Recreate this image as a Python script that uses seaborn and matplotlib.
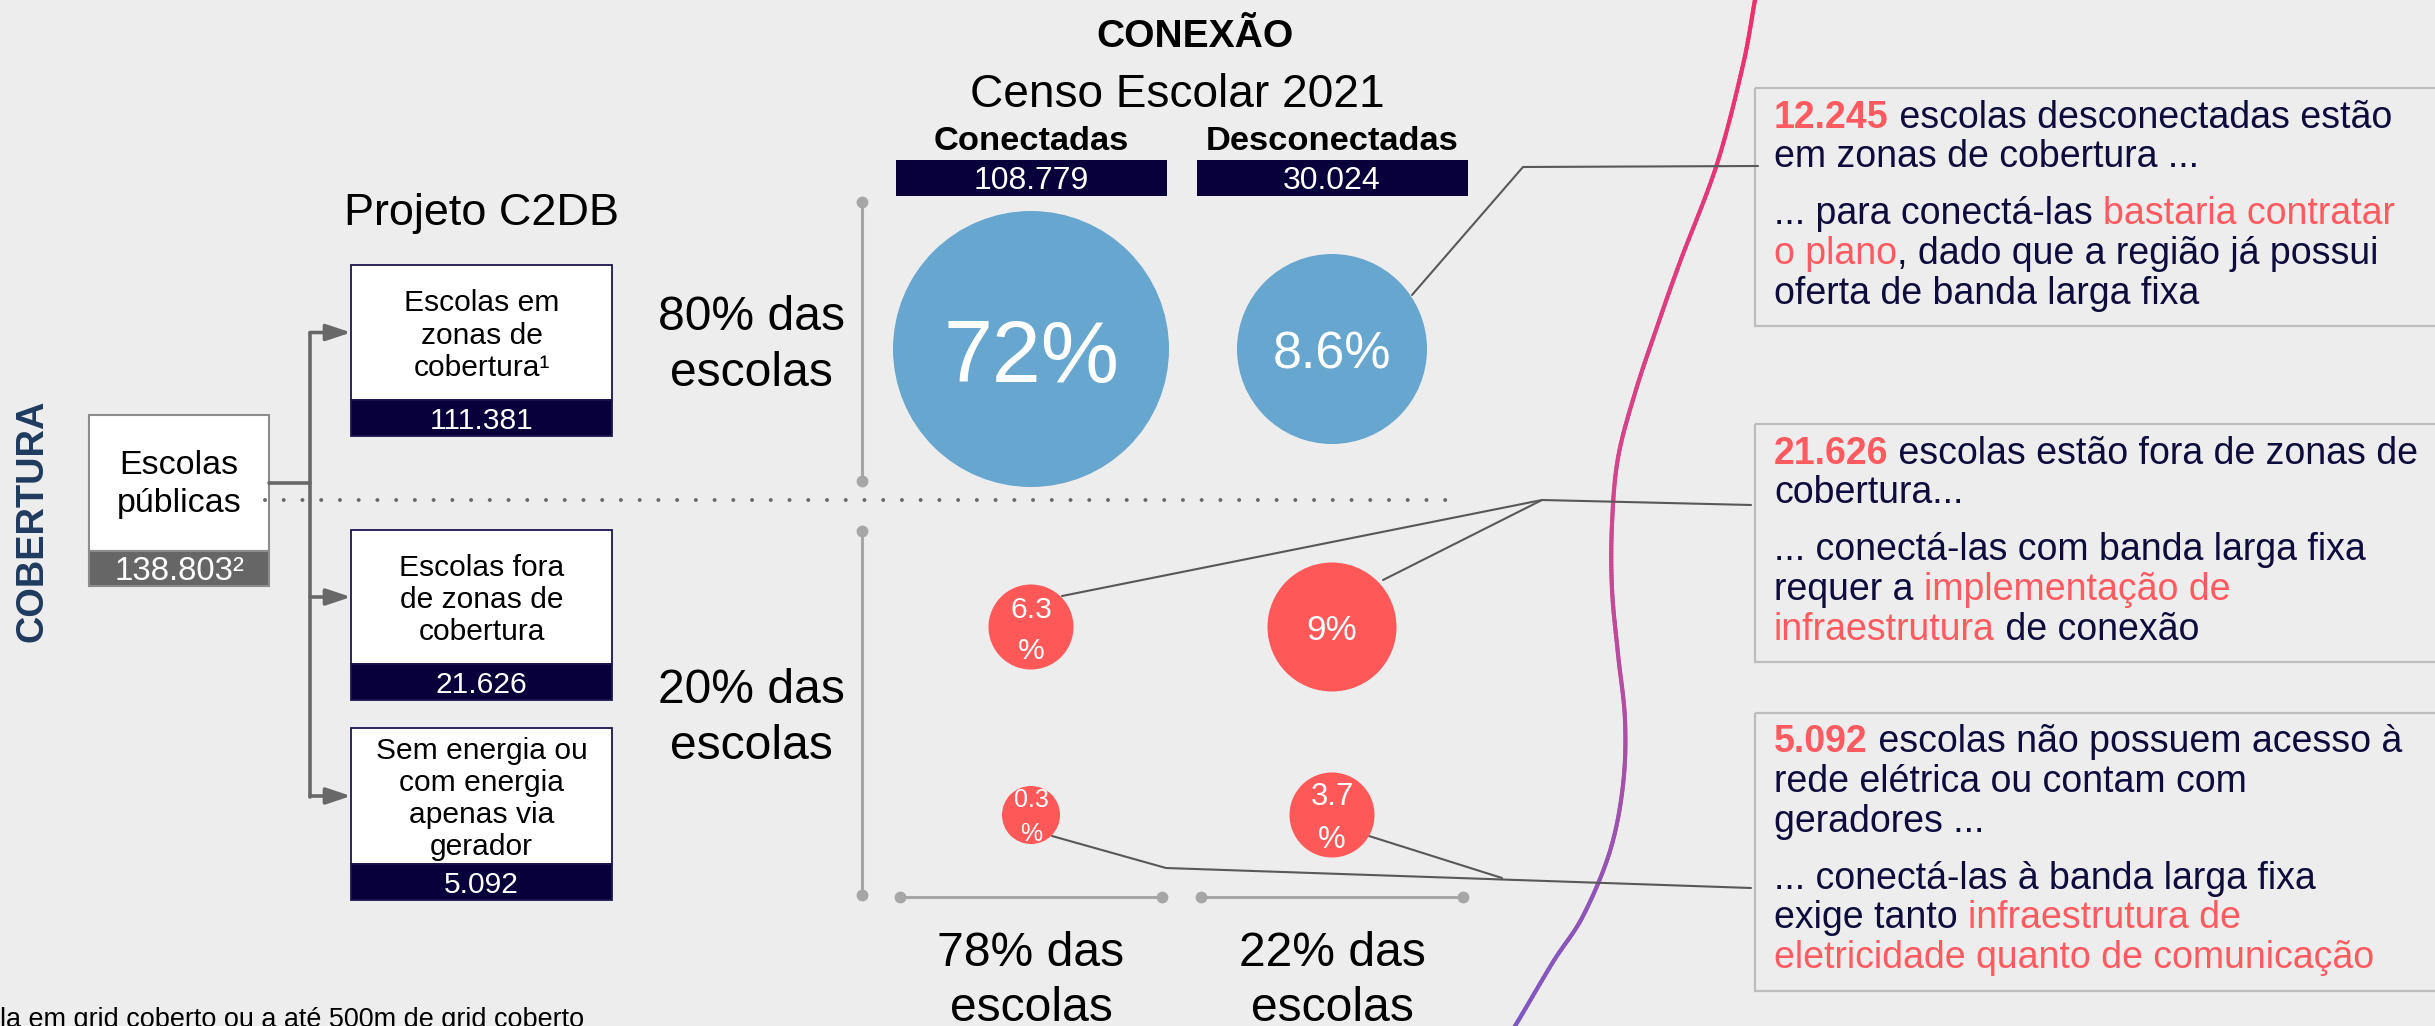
"""Infographic: school coverage (COBERTURA) vs connection (CONEXÃO), Censo Escolar 2021."""

import matplotlib

matplotlib.use("Agg")
import matplotlib.pyplot as plt
import numpy as np
import pandas as pd
import seaborn as sns
from matplotlib.collections import LineCollection
from matplotlib.colors import LinearSegmentedColormap
from matplotlib.font_manager import FontProperties
from matplotlib.patches import FancyArrowPatch, Rectangle

# ---- data -----------------------------------------------------------------
public_label = ["Escolas", "públicas"]
public_total = "138.803²"
segments = [
    ["Escolas em", "zonas de", "cobertura¹"],
    ["Escolas fora", "de zonas de", "cobertura"],
    ["Sem energia ou", "com energia", "apenas via", "gerador"],
]
segment_totals = ["111.381", "21.626", "5.092"]
coverage_shares = ["80% das", "20% das"]
columns = ["Conectadas", "Desconectadas"]
column_totals = ["108.779", "30.024"]
column_shares = ["78% das", "22% das"]
bubble_segment = [0, 0, 1, 1, 2, 2]
bubble_column = [0, 1, 0, 1, 0, 1]
bubble_pct = [72, 8.6, 6.3, 9, 0.3, 3.7]
bubble_labels = ["72%", "8.6%", "6.3\n%", "9%", "0.3\n%", "3.7\n%"]
footnote = "la em grid coberto ou a até 500m de grid coberto"

NAVY_T = "#0E0B3D"
RED_T = "#FF5A5F"
notes = [
    [
        [[("12.245", RED_T, "bold"), (" escolas desconectadas estão", NAVY_T, "normal")],
         [("em zonas de cobertura ...", NAVY_T, "normal")]],
        [[("... para conectá-las ", NAVY_T, "normal"), ("bastaria contratar", RED_T, "normal")],
         [("o plano", RED_T, "normal"), (", dado que a região já possui", NAVY_T, "normal")],
         [("oferta de banda larga fixa", NAVY_T, "normal")]],
    ],
    [
        [[("21.626", RED_T, "bold"), (" escolas estão fora de zonas de", NAVY_T, "normal")],
         [("cobertura...", NAVY_T, "normal")]],
        [[("... conectá-las com banda larga fixa", NAVY_T, "normal")],
         [("requer a ", NAVY_T, "normal"), ("implementação de", RED_T, "normal")],
         [("infraestrutura", RED_T, "normal"), (" de conexão", NAVY_T, "normal")]],
    ],
    [
        [[("5.092", RED_T, "bold"), (" escolas não possuem acesso à", NAVY_T, "normal")],
         [("rede elétrica ou contam com", NAVY_T, "normal")],
         [("geradores ...", NAVY_T, "normal")]],
        [[("... conectá-las à banda larga fixa", NAVY_T, "normal")],
         [("exige tanto ", NAVY_T, "normal"), ("infraestrutura de", RED_T, "normal")],
         [("eletricidade quanto de comunicação", RED_T, "normal")]],
    ],
]

# ---- layout / style (pixels, 1 data unit = 1 pixel) ------------------------
W, H = 2435, 1026
PX = 0.72  # points per pixel at dpi 100
BG = "#EDEDED"
NAVY_BAR = "#07003A"
BLUE = "#66A6CF"
BUBBLE_RED = "#FF5858"
BRACKET = "#A6A6A6"
CONNECTOR = "#686868"
LEADER = "#585858"

COLUMN_X = [1031, 1332]
ROW_Y = [349, 627, 815]
BUBBLE_DIAM = [276, 190, 85, 129, 58, 85]
LABEL_PX = [88, 52, 30, 35, 25, 31]
SEG_WHITE = [(265, 400), (530, 664), (728, 864)]
SEG_BAR = 36
NOTE_BOXES = [(88, 238), (424, 238), (713, 278)]
CURVE = [(1758, -8), (1755, 0), (1743, 65), (1717, 164), (1680, 262),
         (1657, 327), (1635, 393), (1618, 458), (1612, 524), (1612, 589),
         (1618, 654), (1625, 720), (1623, 785), (1610, 851), (1583, 916),
         (1553, 962), (1515, 1026), (1508, 1034)]

sns.set_theme(style="white", rc={"axes.facecolor": BG, "figure.facecolor": BG})
plt.rcParams["font.family"] = ["Liberation Sans", "DejaVu Sans"]

fig = plt.figure(figsize=(W / 100, H / 100), dpi=100)
ax = fig.add_axes([0, 0, 1, 1])
renderer = fig.canvas.get_renderer()


def put(x, y, s, px, **kw):
    kw.setdefault("ha", "center")
    kw.setdefault("va", "baseline")
    kw.setdefault("color", "black")
    return ax.text(x, y, s, fontsize=px * PX, **kw)


def advance(s, px, weight):
    prop = FontProperties(family=plt.rcParams["font.family"], size=px * PX,
                          weight=weight)
    w1 = renderer.get_text_width_height_descent(s + "|", prop, ismath=False)[0]
    w2 = renderer.get_text_width_height_descent("|", prop, ismath=False)[0]
    return w1 - w2


def arrow(x0, x1, y):
    ax.add_patch(FancyArrowPatch(
        (x0, y), (x1, y), arrowstyle="-|>,head_length=15,head_width=5",
        mutation_scale=1, color=CONNECTOR, lw=2.6, shrinkA=0, shrinkB=0))


def bracket(xs, ys):
    ax.plot(xs, ys, color=BRACKET, lw=2.2, marker="o", ms=7.5,
            solid_capstyle="round")


def smooth(points, n=24):
    p = np.asarray(points, float)
    p = np.vstack([p[0], p, p[-1]])
    t = np.linspace(0, 1, n, endpoint=False)[:, None]
    out = []
    for i in range(1, len(p) - 2):
        p0, p1, p2, p3 = p[i - 1], p[i], p[i + 1], p[i + 2]
        out.append(0.5 * (2 * p1 + (p2 - p0) * t
                          + (2 * p0 - 5 * p1 + 4 * p2 - p3) * t ** 2
                          + (3 * p1 - p0 - 3 * p2 + p3) * t ** 3))
    out.append(p[-2][None])
    return np.vstack(out)


# ---- left: COBERTURA tree --------------------------------------------------
put(33, 521, "COBERTURA", 38, rotation=90, va="center", weight="bold",
    color="#1E3A5F")
ax.add_patch(Rectangle((89, 415), 180, 136, fc="white", ec="#8C8C8C", lw=1.5))
ax.add_patch(Rectangle((89, 551), 180, 35, fc="#666666", ec="#8C8C8C", lw=1.5))
for i, line in enumerate(public_label):
    put(179, 474 + 38 * i, line, 34)
put(179, 580, public_total, 33, color="white")

ax.plot([269, 310], [483, 483], color=CONNECTOR, lw=2.6)
ax.plot([310, 310], [333, 797], color=CONNECTOR, lw=2.6)
put(482, 225, "Projeto C2DB", 45)

for (top, bottom), lines, total in zip(SEG_WHITE, segments, segment_totals):
    ax.add_patch(Rectangle((351, top), 261, bottom - top, fc="white",
                           ec="#1A1650", lw=1.3))
    ax.add_patch(Rectangle((351, bottom), 261, SEG_BAR, fc=NAVY_BAR,
                           ec="#1A1650", lw=1.3))
    mid = (top + bottom) / 2
    arrow(310, 351, mid)
    first = mid + 11 - 32.3 * (len(lines) - 1) / 2
    for i, line in enumerate(lines):
        put(481.5, first + 32.3 * i, line, 30)
    put(481.5, bottom + SEG_BAR / 2 + 11, total, 30, color="white")

for y0, share in zip([330, 703], coverage_shares):
    put(751, y0, share, 48)
    put(751, y0 + 56, "escolas", 48)
bracket([862, 862], [202, 481])
bracket([862, 862], [531, 895])

ax.plot([265, 1462], [500, 500], color="#6A6A6A", lw=2.9,
        ls=(0, (0.001, 4.65)), dash_capstyle="round")

# ---- centre: CONEXÃO bubbles -----------------------------------------------
put(1195, 47, "CONEXÃO", 39, weight="bold")
put(1177, 107, "Censo Escolar 2021", 46)
for cx, name, total, share in zip(COLUMN_X, columns, column_totals,
                                  column_shares):
    put(cx, 150, name, 34.5, weight="bold")
    ax.add_patch(Rectangle((cx - 135.5, 160), 271, 36, fc=NAVY_BAR, ec="none"))
    put(cx, 189, total, 32, color="white")
    bracket([cx - 131, cx + 131], [897, 897])
    put(cx, 966, share, 48)
    put(cx, 1021, "escolas", 48)

grid = pd.DataFrame({
    "segment": bubble_segment,
    "column": bubble_column,
    "pct": bubble_pct,
    "label": bubble_labels,
})
grid["x"] = grid["column"].map(dict(enumerate(COLUMN_X)))
grid["y"] = grid["segment"].map(dict(enumerate(ROW_Y)))
grid["tone"] = np.where(grid["segment"] == 0, "coberta", "descoberta")
sns.scatterplot(data=grid, x="x", y="y", hue="tone",
                palette={"coberta": BLUE, "descoberta": BUBBLE_RED},
                s=(np.array(BUBBLE_DIAM) * PX) ** 2, linewidth=0,
                legend=False, ax=ax, zorder=3)
for row, fpx in zip(grid.itertuples(), LABEL_PX):
    lines = row.label.split("\n")
    pitch = 1.37 * fpx
    for i, line in enumerate(lines):
        base = row.y + 0.37 * fpx + (i - (len(lines) - 1) / 2) * pitch
        put(row.x, base, line, fpx, color="white", zorder=4)

# ---- leader lines ----------------------------------------------------------
for xs, ys in [
    ([1412, 1523, 1758], [295, 167, 166]),
    ([1062, 1542, 1751], [596, 500, 505]),
    ([1383, 1542], [580, 500]),
    ([1052, 1166, 1751], [836, 868, 888]),
    ([1369, 1502], [836, 878]),
]:
    ax.plot(xs, ys, color=LEADER, lw=1.5, zorder=2)

# ---- gradient divider ------------------------------------------------------
pts = smooth(CURVE)
segs = np.stack([pts[:-1], pts[1:]], axis=1)
cmap = LinearSegmentedColormap.from_list("divider", ["#EE2F6B", "#D2468E",
                                                     "#7E58C4"])
lc = LineCollection(segs, colors=cmap(np.clip(pts[:-1, 1] / H, 0, 1)),
                    linewidths=3.0, capstyle="round", zorder=1)
ax.add_collection(lc)

# ---- right: notes ----------------------------------------------------------
for (top, height), paragraphs in zip(NOTE_BOXES, notes):
    ax.add_patch(Rectangle((1755, top), 760, height, fc="none", ec="#BDBDBD",
                           lw=1.6))
    y = top + 39.5
    for p_idx, paragraph in enumerate(paragraphs):
        if p_idx:
            y += 18
        for parts in paragraph:
            x = 1774
            for text, color, weight in parts:
                put(x, y, text, 37.5, ha="left", color=color, weight=weight)
                x += advance(text, 37.5, weight)
            y += 39.5

put(0, 1027, footnote, 27, ha="left")

ax.set_xlim(0, W)
ax.set_ylim(H, 0)
ax.axis("off")
fig.savefig("out.png", dpi=100, facecolor=BG)
